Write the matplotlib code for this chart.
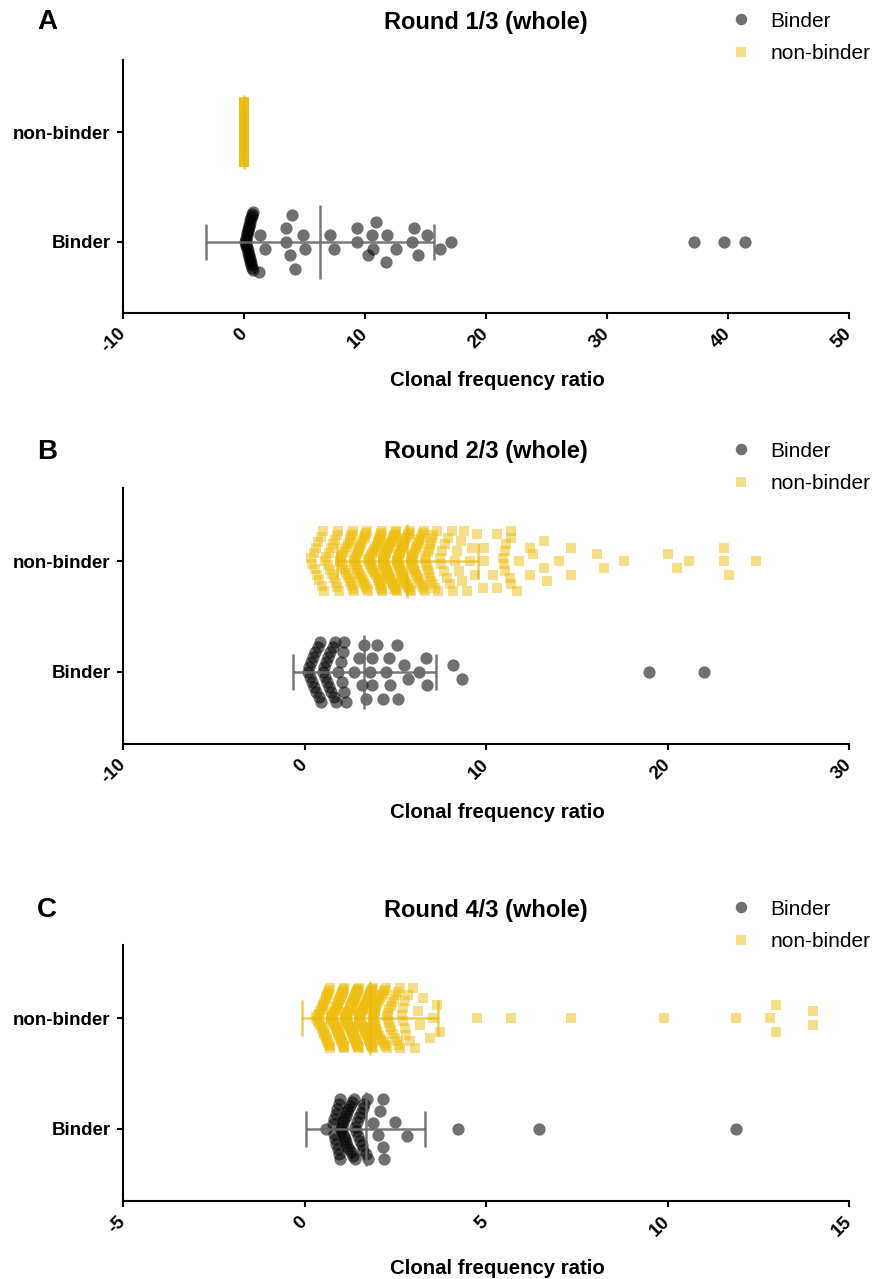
import matplotlib.pyplot as plt
from matplotlib.lines import Line2D
from matplotlib.transforms import ScaledTranslation
import numpy as np

plt.rcParams['font.family'] = ['Liberation Sans', 'DejaVu Sans']

W, H = 876, 1279

# ---------------- data: clonal frequency ratio of each clone ----------------
titles = ['Round 1/3 (whole)', 'Round 2/3 (whole)', 'Round 4/3 (whole)']
letters = ['A', 'B', 'C']
groups = ['Binder', 'non-binder']
x_limits = [(-10, 50), (-10, 30), (-5, 15)]
x_steps = [10, 10, 5]

binder_r1 = [0.10, 0.13, 0.15, 0.18, 0.20, 0.22, 0.25, 0.27, 0.30, 0.32, 0.34, 0.36,
             0.38, 0.40, 0.42, 0.44, 0.46, 0.48, 0.50, 0.52, 0.55, 0.57, 0.60, 0.62,
             0.65, 0.68, 0.72, 0.76,
             1.2, 1.3, 1.74, 3.5, 3.5, 3.8, 3.94, 4.2, 4.9, 5.0, 7.1, 7.4, 9.3, 9.35,
             10.25, 10.6, 10.7, 10.9, 11.7, 11.8, 12.6, 13.9, 14.05, 14.4, 15.1, 16.2,
             17.1, 37.2, 39.7, 41.4]
# round 1: every non-binder clone sits at 0
nonbinder_r1 = [0.0] * 330

binder_r2 = [0.20, 0.25, 0.30, 0.36, 0.42, 0.48, 0.55, 0.60, 0.66, 0.72, 0.80, 0.86,
             0.92, 1.00, 1.08, 1.12, 1.18, 1.24, 1.30, 1.36, 1.42, 1.48, 1.55, 1.62,
             1.70, 1.76, 1.84, 2.00, 2.05, 2.10, 2.15, 2.20, 2.28, 2.7, 3.0, 3.15,
             3.3, 3.4, 3.6, 3.7, 3.7, 4.0, 4.3, 4.5, 4.65, 4.7, 5.1, 5.15, 5.5, 5.7,
             6.3, 6.7, 6.75, 8.2, 8.7, 19.0, 22.0]
nonbinder_r2 = [0.35, 0.42, 0.50, 0.56, 0.62, 0.68, 0.74, 0.80,
                0.90, 0.96, 1.02, 1.08, 1.14, 1.20, 1.27, 1.34, 1.40, 1.46, 1.52, 1.58,
                1.65, 1.69, 1.73, 1.77, 1.81, 1.85, 1.89, 1.93, 1.97, 2.01, 2.05, 2.09,
                2.13, 2.17, 2.21, 2.25, 2.29, 2.33, 2.37, 2.41,
                2.45, 2.48, 2.50, 2.53, 2.55, 2.58, 2.60, 2.63, 2.65, 2.68, 2.70, 2.73,
                2.75, 2.78, 2.80, 2.83, 2.85, 2.88, 2.90, 2.93, 2.95, 2.98, 3.00, 3.03,
                3.05, 3.08, 3.10, 3.13, 3.15, 3.18,
                3.24, 3.26, 3.29, 3.31, 3.34, 3.36, 3.39, 3.41, 3.44, 3.46, 3.49, 3.51,
                3.54, 3.56, 3.59, 3.61, 3.64, 3.66, 3.69, 3.71, 3.74, 3.76, 3.79, 3.81,
                3.84, 3.86, 3.89, 3.91, 3.94, 3.97,
                4.03, 4.05, 4.08, 4.10, 4.13, 4.15, 4.18, 4.20, 4.23, 4.25, 4.28, 4.30,
                4.33, 4.35, 4.38, 4.40, 4.43, 4.45, 4.48, 4.50, 4.53, 4.55, 4.58, 4.60,
                4.63, 4.65, 4.68, 4.70, 4.73, 4.77,
                4.04, 4.07, 4.11, 4.14, 4.17, 4.21, 4.24, 4.27, 4.31, 4.34, 4.37, 4.41,
                4.44, 4.47, 4.51, 4.54, 4.57, 4.61, 4.64, 4.67, 4.71, 4.74,
                4.82, 4.85, 4.88, 4.90, 4.93, 4.96, 4.98, 5.01, 5.04, 5.06, 5.09, 5.12,
                5.14, 5.17, 5.20, 5.22, 5.25, 5.28, 5.30, 5.33, 5.36, 5.38, 5.41, 5.44,
                5.46, 5.49, 5.52, 5.55,
                4.83, 4.87, 4.91, 4.94, 4.97, 5.00, 5.03, 5.07, 5.11, 5.15, 5.18, 5.21,
                5.24, 5.27, 5.31, 5.35, 5.39, 5.42, 5.45, 5.48, 5.51, 5.54,
                5.62, 5.67, 5.72, 5.76, 5.81, 5.86, 5.90, 5.95, 6.00, 6.04, 6.09, 6.14,
                6.19, 6.24, 6.29, 6.35,
                5.64, 5.69, 5.74, 5.78, 5.83, 5.88, 5.92, 5.97, 6.02, 6.06, 6.11, 6.16,
                6.21, 6.26, 6.31, 6.33,
                6.42, 6.48, 6.54, 6.60, 6.66, 6.72, 6.78, 6.84, 6.90, 6.96, 7.03, 7.10,
                6.45, 6.51, 6.57, 6.63, 6.69, 6.75, 6.81, 6.87, 6.93, 6.99, 7.06,
                7.20, 7.28, 7.36, 7.44, 7.52, 7.60, 7.68, 7.76, 7.83, 7.90,
                8.00, 8.10, 8.20, 8.30, 8.40, 8.50, 8.60, 8.70,
                8.80, 8.95, 9.10, 9.25, 9.40, 9.50,
                9.85, 9.90, 9.90, 10.4, 10.6, 10.6,
                10.95, 11.0, 11.02, 11.05, 11.08, 11.3, 11.4, 11.4, 11.4, 11.7, 11.8,
                12.4, 12.4, 12.6, 13.2, 13.2, 13.35, 14.0, 14.7, 14.7, 16.1, 16.5, 17.6,
                20.0, 20.5, 21.2, 23.1, 23.1, 23.4, 24.9]

binder_r3 = [0.60, 0.78, 0.80, 0.82, 0.84, 0.86, 0.88, 0.90, 0.92, 0.94, 0.95, 0.97,
             0.98, 1.00, 1.02, 1.04, 1.06, 1.08, 1.10, 1.12, 1.13, 1.15, 1.16,
             1.18, 1.20, 1.23, 1.25, 1.28, 1.30, 1.33, 1.35, 1.38, 1.40, 1.43, 1.45,
             1.48, 1.50, 1.53, 1.56, 1.58, 1.60, 1.62, 1.65, 1.70, 1.72, 1.75, 1.89,
             2.03, 2.08, 2.15, 2.17, 2.20, 2.49, 2.82, 4.23, 6.46, 11.9]
nonbinder_r3 = [0.33, 0.35, 0.37, 0.38, 0.40, 0.41, 0.43, 0.44,
                0.46, 0.47, 0.48, 0.49, 0.50, 0.51, 0.52, 0.53, 0.54, 0.55, 0.56, 0.57,
                0.58, 0.59, 0.60, 0.61, 0.62, 0.63, 0.64, 0.65, 0.66, 0.67, 0.68, 0.69,
                0.70, 0.71, 0.72, 0.73, 0.74, 0.75, 0.76, 0.77, 0.78, 0.79, 0.80, 0.81,
                0.82, 0.83,
                0.85, 0.86, 0.87, 0.88, 0.89, 0.90, 0.91, 0.92, 0.93, 0.94, 0.95, 0.96,
                0.97, 0.98, 0.99, 1.00, 1.01, 1.02, 1.03, 1.04, 1.05, 1.06, 1.07, 1.08,
                1.09, 1.10, 1.11, 1.12, 1.13, 1.14, 1.15, 1.16, 1.17, 1.18, 1.19, 1.20,
                1.21, 1.22,
                0.855, 0.875, 0.895, 0.915, 0.935, 0.955, 0.975, 0.995, 1.015, 1.035,
                1.055, 1.075, 1.095, 1.115, 1.135, 1.155, 1.175, 1.195, 1.215,
                1.24, 1.25, 1.26, 1.27, 1.28, 1.29, 1.30, 1.31, 1.32, 1.33, 1.34, 1.35,
                1.36, 1.37, 1.38, 1.39, 1.40, 1.41, 1.42, 1.43, 1.44, 1.45, 1.46, 1.47,
                1.48, 1.49, 1.50, 1.51, 1.52, 1.53, 1.54, 1.55, 1.57, 1.60,
                1.245, 1.255, 1.265, 1.275, 1.285, 1.295, 1.305, 1.315, 1.325, 1.335,
                1.345, 1.355, 1.365, 1.375, 1.385, 1.395, 1.405, 1.415, 1.425, 1.435,
                1.445, 1.455, 1.465, 1.475, 1.485, 1.495, 1.505, 1.515, 1.525, 1.535,
                1.545, 1.555, 1.565, 1.585, 1.595,
                1.62, 1.63, 1.65, 1.66, 1.68, 1.69, 1.71, 1.72, 1.74, 1.75, 1.77, 1.78,
                1.80, 1.81, 1.83, 1.84, 1.86, 1.87, 1.89, 1.90, 1.92, 1.93, 1.95, 1.96,
                1.98, 2.00,
                1.625, 1.645, 1.665, 1.685, 1.705, 1.725, 1.745, 1.765, 1.785, 1.805,
                1.825, 1.845, 1.865, 1.885, 1.905, 1.925, 1.945, 1.965, 1.985, 1.995,
                1.635, 1.655, 1.675, 1.695, 1.715, 1.735, 1.755, 1.775, 1.795, 1.815,
                1.835, 1.855, 1.875, 1.895, 1.915, 1.935, 1.955, 1.975,
                2.02, 2.05, 2.08, 2.10, 2.13, 2.16, 2.19, 2.21, 2.24, 2.27, 2.30, 2.32,
                2.35, 2.38, 2.40,
                2.03, 2.06, 2.09, 2.12, 2.15, 2.18, 2.22, 2.25, 2.28, 2.31, 2.34, 2.37,
                2.45, 2.49, 2.53, 2.57, 2.61, 2.64, 2.68, 2.72, 2.76, 2.80,
                2.47, 2.55, 2.63, 2.70, 2.78,
                2.85, 2.92, 2.99, 3.05, 3.12, 3.19, 3.26,
                3.46, 3.55, 3.64, 3.73,
                4.74, 5.68, 7.33, 9.9, 11.9, 12.82, 13.0, 13.0, 14.0, 14.0]

binders = [binder_r1, binder_r2, binder_r3]
nonbinders = [nonbinder_r1, nonbinder_r2, nonbinder_r3]

# ---------------- styling ----------------
grey = 'black'
gold = '#EFBE12'
bar_grey = '#6b6b6b'
bar_gold = '#E8B80E'
YLIM = (-0.65, 1.66)
# axes boxes in pixels: left, top, right, bottom
boxes = [(123, 60, 849, 313), (123, 488, 849, 744), (123, 945, 849, 1201)]
legend_rows = [22, 452, 910]


def swarm(values, ppu_x, ppu_y, bin_px=14, step_px=13.5, max_px=30):
    # Prism-like column scatter: bin by value, sorted points placed centre-out
    v = np.sort(np.asarray(values, float))
    ys = np.zeros_like(v)
    i = 0
    while i < len(v):
        j = i
        while j < len(v) and (v[j] - v[i]) * ppu_x <= bin_px:
            j += 1
        n = j - i
        half = (n - 1) / 2
        step = step_px if half * step_px <= max_px else max_px / half
        offs = [0.0] if n % 2 else []
        k = 1.0 if n % 2 else 0.5
        while len(offs) < n:
            offs += [k, -k]
            k += 1
        ys[i:j] = np.array(offs[:n]) * step / ppu_y
        i = j
    return v, ys


def mean_sd(ax, vals, y, ppu_y, color, alpha):
    m = np.mean(vals)
    s = np.std(vals, ddof=1)
    kw = dict(color=color, lw=1.8, alpha=alpha, zorder=5, solid_capstyle='butt')
    ax.plot([m - s, m + s], [y, y], **kw)
    ax.plot([m, m], [y - 37 / ppu_y, y + 37 / ppu_y], **kw)
    for e in (m - s, m + s):
        ax.plot([e, e], [y - 18 / ppu_y, y + 18 / ppu_y], **kw)


fig = plt.figure(figsize=(W / 100, H / 100), dpi=100)
shift = ScaledTranslation(5 / 100, 0, fig.dpi_scale_trans)

for p in range(3):
    l, t, r, b = boxes[p]
    ax = fig.add_axes([l / W, 1 - b / H, (r - l) / W, (b - t) / H])
    x0, x1 = x_limits[p]
    ax.set_xlim(x0, x1)
    ax.set_ylim(*YLIM)
    ppu_x = (r - l) / (x1 - x0)
    ppu_y = (b - t) / (YLIM[1] - YLIM[0])

    xb, yb = swarm(binders[p], ppu_x, ppu_y)
    ax.scatter(xb, yb + 0, s=78, marker='o', color=grey, alpha=0.56,
               linewidths=0, zorder=3)
    xn, yn = swarm(nonbinders[p], ppu_x, ppu_y)
    ax.scatter(xn, yn + 1, s=55, marker='s', color=gold, alpha=0.5,
               linewidths=0, zorder=3)

    mean_sd(ax, binders[p], 0, ppu_y, bar_grey, 0.9)
    mean_sd(ax, nonbinders[p], 1, ppu_y, bar_gold, 0.7)

    for side in ('top', 'right'):
        ax.spines[side].set_visible(False)
    for side in ('left', 'bottom'):
        ax.spines[side].set_linewidth(1.5)
    ax.set_yticks([0, 1])
    ax.set_yticklabels(groups, fontsize=13.5, fontweight='bold')
    ticks = np.arange(x0, x1 + 1, x_steps[p])
    ax.set_xticks(ticks)
    ax.set_xticklabels([str(v) for v in ticks], fontsize=13.5, fontweight='bold',
                       rotation=45, ha='right', va='center', rotation_mode='anchor')
    for lab in ax.get_xticklabels():
        lab.set_transform(lab.get_transform() + shift)
    ax.tick_params(axis='x', length=4, width=1.5, pad=9)
    ax.tick_params(axis='y', length=4, width=1.5, pad=5)

    fig.text(486 / W, 1 - legend_rows[p] / H, titles[p], ha='center',
             va='center', fontsize=17, fontweight='bold')
    fig.text(47 / W, 1 - legend_rows[p] / H, letters[p], ha='center',
             va='center', fontsize=20, fontweight='bold')
    fig.text(497 / W, 1 - (b + 68) / H, 'Clonal frequency ratio', ha='center',
             va='center', fontsize=14.7, fontweight='bold')

    handles = [Line2D([], [], ls='', marker='o', color=grey, alpha=0.56,
                      markersize=8.3, markeredgewidth=0),
               Line2D([], [], ls='', marker='s', color=gold, alpha=0.5,
                      markersize=7.2, markeredgewidth=0)]
    fig.legend(handles, groups, loc='center left',
               bbox_to_anchor=(733 / W, 1 - (legend_rows[p] + 15.5) / H),
               frameon=False, fontsize=15, handlelength=0.8, handletextpad=1.0,
               labelspacing=0.65, borderpad=0, borderaxespad=0)

fig.savefig('out.png', dpi=100)
